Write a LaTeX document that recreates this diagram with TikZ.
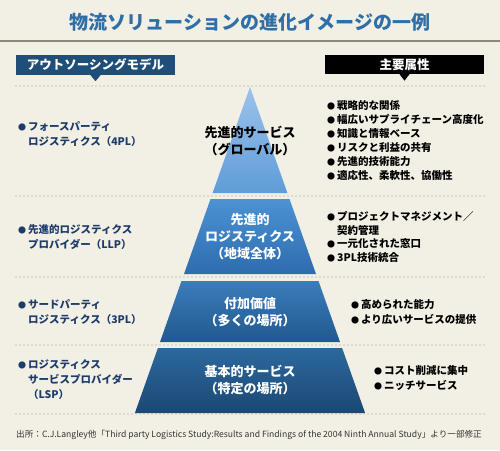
\documentclass[tikz,border=0pt]{standalone}
\usepackage{fontspec}
\setmainfont{Noto Sans CJK JP}
\usetikzlibrary{calc}
\definecolor{bg}{HTML}{F2EFE4}
\definecolor{titleblue}{HTML}{2F6FA8}
\definecolor{navy}{HTML}{1F4E79}
\definecolor{navytext}{HTML}{1E3C6A}
\definecolor{rulegray}{HTML}{8C8778}
\definecolor{dotgray}{HTML}{9C9889}
\definecolor{footgray}{HTML}{333333}
\definecolor{bOneT}{HTML}{9CC2EC}
\definecolor{bOneB}{HTML}{5F9CD8}
\definecolor{bTwoT}{HTML}{4B93D3}
\definecolor{bTwoB}{HTML}{2E6CAE}
\definecolor{bThrT}{HTML}{3B7DBA}
\definecolor{bThrB}{HTML}{215890}
\definecolor{bFouT}{HTML}{2C689E}
\definecolor{bFouB}{HTML}{1B4873}
\newcommand{\mybul}{\makebox[10pt][l]{\fontsize{8}{8}\selectfont ●}}
\newcommand{\myind}{\hspace*{10pt}}
\tikzset{
  titletext/.style={font=\fontsize{19}{19}\selectfont\bfseries, text=titleblue, inner sep=0},
  hdrbox/.style={minimum width=159pt, minimum height=20pt, inner sep=0, text=white, font=\fontsize{12.5}{12.5}\selectfont\bfseries},
  bandtext/.style={align=center, inner sep=0, font=\fontsize{13}{17}\selectfont\bfseries},
  leftlist/.style={anchor=west, align=left, inner sep=0, text=navytext, font=\fontsize{10.5}{15}\selectfont\bfseries},
  rightlist/.style={anchor=west, align=left, inner sep=0, text=black, font=\fontsize{10.5}{14}\selectfont\bfseries},
  dotline/.style={draw=dotgray, line width=1.4pt, line cap=round, dash pattern=on 0pt off 4pt},
  foottext/.style={anchor=west, inner sep=0, text=footgray, font=\fontsize{8.6}{8.6}\selectfont}
}
\begin{document}
\begin{tikzpicture}[x=1pt,y=-1pt]
\useasboundingbox (0,0) rectangle (500,450);
\fill[bg] (0,0) rectangle (500,450);
% title
\node[titletext] (title) at (250,22) {物流ソリューションの進化イメージの一例};
\draw[rulegray, line width=2pt] (0,41) -- (500,41);
% headers
\node[hdrbox, fill=navy] (hdrL) at (95.5,65) {アウトソーシングモデル};
\fill[navy] ($(hdrL.south)+(-5,0)$) -- ($(hdrL.south)+(0,6)$) -- ($(hdrL.south)+(5,0)$) -- cycle;
\node[hdrbox, fill=black, minimum height=19pt] (hdrR) at (404.5,64.5) {主要属性};
\fill[black] ($(hdrR.south)+(-5,0)$) -- ($(hdrR.south)+(0,6.5)$) -- ($(hdrR.south)+(5,0)$) -- cycle;
% pyramid
\shade[top color=bOneT, bottom color=bOneB] (250,87) -- (287.4,193) -- (212.6,193) -- cycle;
\shade[top color=bTwoT, bottom color=bTwoB] (210.5,199) -- (289.5,199) -- (316,274) -- (184,274) -- cycle;
\shade[top color=bThrT, bottom color=bThrB] (181.5,281) -- (318.5,281) -- (340,342) -- (160,342) -- cycle;
\shade[top color=bFouT, bottom color=bFouB] (157.9,348) -- (342.1,348) -- (365.1,413) -- (134.9,413) -- cycle;
% dotted separators
\foreach \yy in {86,196,277,345,414} \draw[dotline] (16,\yy) -- (484,\yy);
% band texts
\node[bandtext, text=black] (b1) at (250,141) {先進的サービス\\（グローバル）};
\node[bandtext, text=white] (b2) at (250,237) {先進的\\ロジスティクス\\（地域全体）};
\node[bandtext, text=white] (b3) at (250,312) {付加価値\\（多くの場所）};
\node[bandtext, text=white] (b4) at (250,380) {基本的サービス\\（特定の場所）};
% left labels
\node[leftlist] (l1) at (18,134.5) {\mybul フォースパーティ\\\myind ロジスティクス（4PL）};
\node[leftlist] (l2) at (18,237) {\mybul 先進的ロジスティクス\\\myind プロバイダー（LLP）};
\node[leftlist] (l3) at (18,311.7) {\mybul サードパーティ\\\myind ロジスティクス（3PL）};
\node[leftlist] (l4) at (18,380) {\mybul ロジスティクス\\\myind サービスプロバイダー\\\myind （LSP）};
% right lists
\node[rightlist] (r1) at (327,141) {\mybul 戦略的な関係\\\mybul 幅広いサプライチェーン高度化\\\mybul 知識と情報ベース\\\mybul リスクと利益の共有\\\mybul 先進的技術能力\\\mybul 適応性、柔軟性、協働性};
\node[rightlist, font=\fontsize{10.5}{13.5}\selectfont\bfseries] (r2) at (327,237) {\mybul プロジェクトマネジメント／\\\myind 契約管理\\\mybul 一元化された窓口\\\mybul 3PL技術統合};
\node[rightlist, font=\fontsize{10.5}{15}\selectfont\bfseries] (r3) at (351,311.8) {\mybul 高められた能力\\\mybul より広いサービスの提供};
\node[rightlist, font=\fontsize{10.5}{15}\selectfont\bfseries] (r4) at (374,378.5) {\mybul コスト削減に集中\\\mybul ニッチサービス};
% footer
\node[foottext] (foot) at (16,435) {出所：C.J.Langley他「Third party Logistics Study:Results and Findings of the 2004 Ninth Annual Study」より一部修正};
\end{tikzpicture}
\end{document}
